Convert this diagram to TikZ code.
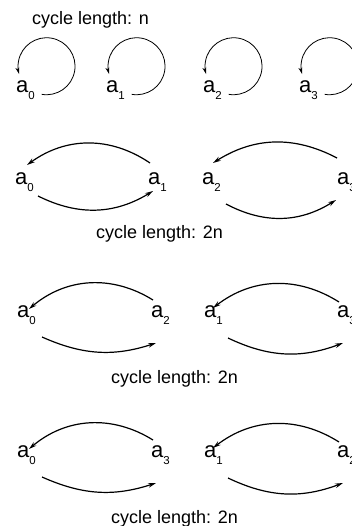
\documentclass[tikz,border=0pt]{standalone}
\usepackage{fontspec}
\setmainfont{Liberation Sans}
\usetikzlibrary{arrows.meta,calc}

\newcommand{\lbl}[1]{a\raisebox{-7pt}{\fontsize{11.5}{12}\selectfont #1}}

\begin{document}
\begin{tikzpicture}[x=1pt,y=1pt,
		lbl/.style={inner sep=0pt,anchor=base west,font=\fontsize{22}{24}\selectfont},
		captext/.style={inner sep=0pt,anchor=base west,font=\fontsize{18}{20}\selectfont},
		loopline/.style={-{Stealth[length=7pt,width=4pt]},line width=0.8pt},
		cycline/.style={-{Stealth[length=8pt,width=4.5pt]},line width=1.2pt}]
		\useasboundingbox (0,0) rectangle (352,-526);
		\node[captext] (capn) at (32,-25) {cycle length: n};
		\node[lbl] (n0) at (16,-93) {\lbl{0}};
		\node[lbl] (n1) at (106,-93) {\lbl{1}};
		\node[lbl] (n2) at (203,-93) {\lbl{2}};
		\node[lbl] (n3) at (299,-93) {\lbl{3}};
		\foreach \n in {n0,n1,n2,n3}
			\draw[loopline] ($(\n.base west)+(25.6,-1.3)$) arc[start angle=-100,end angle=196,radius=28.5];
		\node[lbl] (b0) at (15,-185) {\lbl{0}};
		\node[lbl] (b1) at (148,-185) {\lbl{1}};
		\node[lbl] (b2) at (202,-185) {\lbl{2}};
		\node[lbl] (b3) at (337,-185) {\lbl{3}};
		\draw[cycline] ($(b1.base west)+(2,22)$) to[bend right=35] ($(b0.base west)+(12,20)$);
		\draw[cycline] ($(b0.base west)+(23,-11)$) to[bend right=29] ($(b1.base west)+(5,-6)$);
		\draw[cycline] ($(b3.base west)+(0,27)$) to[bend right=30] ($(b2.base west)+(11,22)$);
		\draw[cycline] ($(b2.base west)+(24,-19)$) to[bend right=30] ($(b3.base west)+(-1,-15)$);
		\node[captext] (capb) at (96,-238) {cycle length: 2n};
		\node[lbl] (c0) at (17,-317) {\lbl{0}};
		\node[lbl] (c2) at (151,-317) {\lbl{2}};
		\node[lbl] (c1) at (204,-317) {\lbl{1}};
		\node[lbl] (c3) at (337,-317) {\lbl{3}};
		\draw[cycline] ($(c2.base west)+(2,17)$) to[bend right=36] ($(c0.base west)+(12,8)$);
		\draw[cycline] ($(c0.base west)+(25,-20)$) to[bend right=21] ($(c2.base west)+(5,-26)$);
		\draw[cycline] ($(c3.base west)+(2,15)$) to[bend right=35] ($(c1.base west)+(9,9)$);
		\draw[cycline] ($(c1.base west)+(24,-21)$) to[bend right=23] ($(c3.base west)+(6,-26)$);
		\node[captext] (capc) at (111,-383) {cycle length: 2n};
		\node[lbl] (d0) at (17,-457) {\lbl{0}};
		\node[lbl] (d3) at (151,-457) {\lbl{3}};
		\node[lbl] (d1) at (204,-457) {\lbl{1}};
		\node[lbl] (d2) at (337,-457) {\lbl{2}};
		\draw[cycline] ($(d3.base west)+(2,17)$) to[bend right=36] ($(d0.base west)+(12,8)$);
		\draw[cycline] ($(d0.base west)+(25,-20)$) to[bend right=21] ($(d3.base west)+(5,-26)$);
		\draw[cycline] ($(d2.base west)+(2,15)$) to[bend right=35] ($(d1.base west)+(9,9)$);
		\draw[cycline] ($(d1.base west)+(24,-21)$) to[bend right=23] ($(d2.base west)+(6,-26)$);
		\node[captext] (capd) at (111,-523) {cycle length: 2n};
	\end{tikzpicture}
\end{document}
